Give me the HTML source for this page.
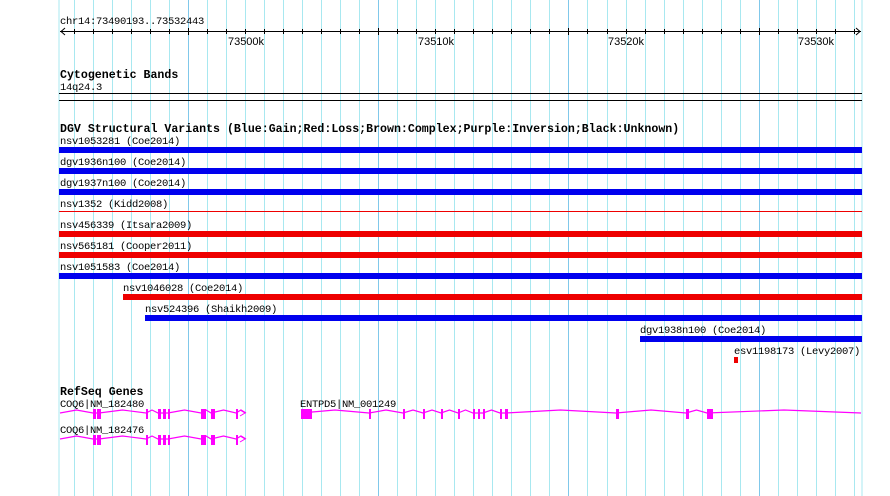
<!DOCTYPE html>
<html><head><meta charset="utf-8"><style>
html,body{margin:0;padding:0;background:#fff;}
svg{display:block;}
text{font-family:"Liberation Mono",monospace;font-size:10.5px;letter-spacing:-0.3px;fill:#000;}
.b{font-weight:bold;font-size:11.6px;letter-spacing:0;}
.s{font-family:"Liberation Sans",sans-serif;font-size:11px;letter-spacing:0;}
</style></head><body>
<svg id="c" width="890" height="496" xmlns="http://www.w3.org/2000/svg">
<rect width="890" height="496" fill="#fff"/>
<g id="grid"></g>
<line x1="59" y1="0" x2="59" y2="496" stroke="#a8e8f0"/>
<line x1="862" y1="0" x2="862" y2="496" stroke="#a8e8f0"/>
<text x="60" y="24">chr14:73490193..73532443</text>
<line x1="60" y1="31.5" x2="861" y2="31.5" stroke="#000"/>
<polyline points="65,28 61,31.5 65,35" fill="none" stroke="#000"/>
<polyline points="856,28 860,31.5 856,35" fill="none" stroke="#000"/>
<g id="ticks"></g>
<text class="s" x="246" y="45" text-anchor="middle">73500k</text>
<text class="s" x="436" y="45" text-anchor="middle">73510k</text>
<text class="s" x="626" y="45" text-anchor="middle">73520k</text>
<text class="s" x="816" y="45" text-anchor="middle">73530k</text>

<text class="b" x="60" y="78">Cytogenetic Bands</text>
<text x="60" y="90">14q24.3</text>
<line x1="59" y1="93.5" x2="862" y2="93.5" stroke="#000"/>
<line x1="59" y1="100.5" x2="862" y2="100.5" stroke="#000"/>

<text class="b" x="60" y="132">DGV Structural Variants (Blue:Gain;Red:Loss;Brown:Complex;Purple:Inversion;Black:Unknown)</text>
<text x="60" y="144">nsv1053281 (Coe2014)</text>
<rect x="59" y="147" width="803" height="6" fill="#0000ee"/>
<text x="60" y="165">dgv1936n100 (Coe2014)</text>
<rect x="59" y="168" width="803" height="6" fill="#0000ee"/>
<text x="60" y="186">dgv1937n100 (Coe2014)</text>
<rect x="59" y="189" width="803" height="6" fill="#0000ee"/>
<text x="60" y="207">nsv1352 (Kidd2008)</text>
<rect x="59" y="211" width="803" height="1" fill="#ee0000"/>
<text x="60" y="228">nsv456339 (Itsara2009)</text>
<rect x="59" y="231" width="803" height="6" fill="#ee0000"/>
<text x="60" y="249">nsv565181 (Cooper2011)</text>
<rect x="59" y="252" width="803" height="6" fill="#ee0000"/>
<text x="60" y="270">nsv1051583 (Coe2014)</text>
<rect x="59" y="273" width="803" height="6" fill="#0000ee"/>
<text x="123" y="291">nsv1046028 (Coe2014)</text>
<rect x="123" y="294" width="739" height="6" fill="#ee0000"/>
<text x="145" y="312">nsv524396 (Shaikh2009)</text>
<rect x="145" y="315" width="717" height="6" fill="#0000ee"/>
<text x="640" y="333">dgv1938n100 (Coe2014)</text>
<rect x="640" y="336" width="222" height="6" fill="#0000ee"/>
<text x="734" y="354">esv1198173 (Levy2007)</text>
<rect x="734" y="357" width="4" height="6" fill="#ee0000"/>

<text class="b" x="60" y="395">RefSeq Genes</text>
<text x="60" y="407">COQ6|NM_182480</text>
<text x="60" y="433">COQ6|NM_182476</text>
<text x="300" y="407">ENTPD5|NM_001249</text>
<g id="genes" fill="#ff00ff" stroke="#ff00ff"></g>
</svg>
<script>
var NS="http://www.w3.org/2000/svg";
function el(p,t,a){var e=document.createElementNS(NS,t);for(var k in a)e.setAttribute(k,a[k]);document.getElementById(p).appendChild(e);return e;}
for(var k=1;k<=42;k++){var x=Math.round(59+(k*1000-193)*0.019006)+0.5;
 var major=(k%10==7);
 el("grid","line",{x1:x,y1:0,x2:x,y2:496,stroke:major?"#80c8ea":"#a8e8f0"});
 el("ticks","line",{x1:x,y1:major?28:29,x2:x,y2:major?35:34,stroke:"#000"});}
function gene(y,x0,x1,exons){
 var pts=[x0+","+y];
 var bounds=[x0].concat(exons.map(function(e){return e[0];})).concat([x1]);
 for(var i=0;i<bounds.length-1;i++){var a=bounds[i],b=bounds[i+1];
   if(b-a>6){pts.push(((a+b)/2)+","+(y-3));}
   pts.push(b+","+y);}
 el("genes","polyline",{points:pts.join(" "),fill:"none","stroke-width":1.2});
 exons.forEach(function(e){el("genes","rect",{x:e[0],y:y-4,width:e[1],height:10,stroke:"none"});});
}
var coq=[[93,3],[97,3],[99,2],[146,2],[158,3],[163,3],[168,2],[201,5],[211,4],[236,2]];
gene(413,60,246,coq);
el("genes","polyline",{points:"240,410 245,413 240,416",fill:"none"});
gene(439,60,246,coq);
el("genes","polyline",{points:"240,436 245,439 240,442",fill:"none"});
gene(413,301,861,[[301,11],[369,2],[403,2],[423,2],[441,2],[458,2],[473,2],[478,2],[483,2],[500,2],[505,3],[616,3],[686,3],[707,6]]);
</script>
</body></html>
